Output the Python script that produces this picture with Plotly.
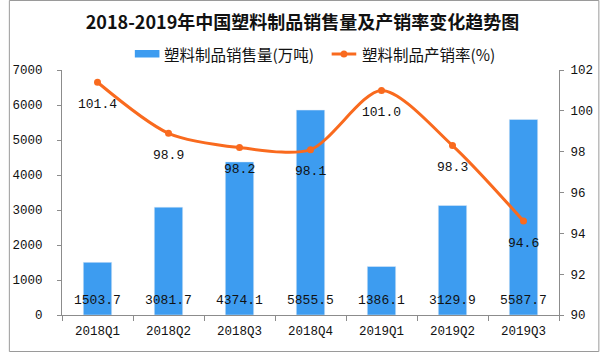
import plotly.graph_objects as go

categories = ["2018Q1", "2018Q2", "2018Q3", "2018Q4", "2019Q1", "2019Q2", "2019Q3"]
sales = [1503.7, 3081.7, 4374.1, 5855.5, 1386.1, 3129.9, 5587.7]
rate = [101.4, 98.9, 98.2, 98.1, 101.0, 98.3, 94.6]

title_text = "2018-2019年中国塑料制品销售量及产销率变化趋势图"
bar_name = "塑料制品销售量(万吨)"
line_name = "塑料制品产销率(%)"

BAR_COLOR = "#3d9cf0"
LINE_COLOR = "#f96a1e"
AXIS_COLOR = "#8c8c8c"
NUM_FONT = "Liberation Mono, Noto Sans CJK SC"
CJK_FONT = "Noto Sans CJK SC"

# plot-area pixel geometry
L, R, T, B = 54, 559, 70, 315
W, H = 605, 352


def px_x(px):
    return (px - L) / (R - L)


def px_y(py):
    return (B - py) / (B - T)


fig = go.Figure()
fig.add_trace(go.Bar(
    x=categories, y=sales, name=bar_name, marker_color=BAR_COLOR,
    width=0.4, yaxis="y", showlegend=False,
))
fig.add_trace(go.Scatter(
    x=categories, y=rate, name=line_name, yaxis="y2", mode="lines+markers",
    line=dict(color=LINE_COLOR, width=3, shape="spline", smoothing=0.8),
    marker=dict(color=LINE_COLOR, size=7), showlegend=False,
))

annotations = []
for c, v in zip(categories, sales):
    annotations.append(dict(
        x=c, y=0, xref="x", yref="y", text=f"{v:.1f}", showarrow=False,
        yanchor="middle", yshift=15, font=dict(family=NUM_FONT, size=13, color="#111"),
    ))
for c, v in zip(categories, rate):
    annotations.append(dict(
        x=c, y=v, xref="x", yref="y2", text=f"{v:.1f}", showarrow=False,
        yanchor="middle", yshift=-22, font=dict(family=NUM_FONT, size=13, color="#111"),
    ))

# manual legend
annotations.append(dict(
    x=px_x(156), y=px_y(53.5), xref="paper", yref="paper", text=bar_name,
    showarrow=False, xanchor="left", yanchor="middle",
    font=dict(family=CJK_FONT, size=15.5, color="#111"),
))
annotations.append(dict(
    x=px_x(357), y=px_y(53.5), xref="paper", yref="paper", text=line_name,
    showarrow=False, xanchor="left", yanchor="middle",
    font=dict(family=CJK_FONT, size=15.5, color="#111"),
))

shapes = [
    dict(type="rect", xref="paper", yref="paper",
         x0=px_x(128), x1=px_x(153), y0=px_y(57.5), y1=px_y(50),
         fillcolor=BAR_COLOR, line=dict(width=0)),
    dict(type="line", xref="paper", yref="paper",
         x0=px_x(328), x1=px_x(353), y0=px_y(54), y1=px_y(54),
         line=dict(color=LINE_COLOR, width=3)),
    dict(type="circle", xref="paper", yref="paper",
         x0=px_x(337), x1=px_x(344), y0=px_y(57.5), y1=px_y(50.5),
         fillcolor=LINE_COLOR, line=dict(width=0)),
    dict(type="rect", xref="paper", yref="paper",
         x0=px_x(0.5), x1=px_x(599.5), y0=px_y(351.5), y1=px_y(0.5),
         line=dict(color="#9a9a9a", width=1), layer="below"),
]

fig.update_layout(
    width=W, height=H,
    margin=dict(l=L, r=W - R, t=T, b=H - B),
    paper_bgcolor="white", plot_bgcolor="white",
    title=dict(text=f"<b>{title_text}</b>", x=0.5, xanchor="center",
               y=1 - 23 / H, yanchor="middle",
               font=dict(family=CJK_FONT, size=18, color="#111")),
    showlegend=False,
    bargap=0.6,
    xaxis=dict(
        type="category", showline=True, linecolor=AXIS_COLOR, linewidth=1,
        ticks="outside", tickson="boundaries", ticklen=5, tickcolor=AXIS_COLOR,
        showgrid=False, ticklabelstandoff=4,
        tickfont=dict(family=NUM_FONT, size=12.5, color="#111"),
    ),
    yaxis=dict(
        range=[0, 7000], dtick=1000, showline=True, linecolor=AXIS_COLOR,
        ticks="outside", ticklen=4, tickcolor=AXIS_COLOR, showgrid=False,
        zeroline=False, ticklabelstandoff=12,
        tickfont=dict(family=NUM_FONT, size=12.5, color="#111"),
    ),
    yaxis2=dict(
        range=[90, 102], dtick=2, overlaying="y", side="right", showline=True,
        linecolor=AXIS_COLOR, ticks="outside", ticklen=4, tickcolor=AXIS_COLOR,
        showgrid=False, zeroline=False, ticklabelstandoff=4,
        tickfont=dict(family=NUM_FONT, size=12.5, color="#111"),
    ),
    annotations=annotations,
    shapes=shapes,
)

fig.write_html("out.html")
